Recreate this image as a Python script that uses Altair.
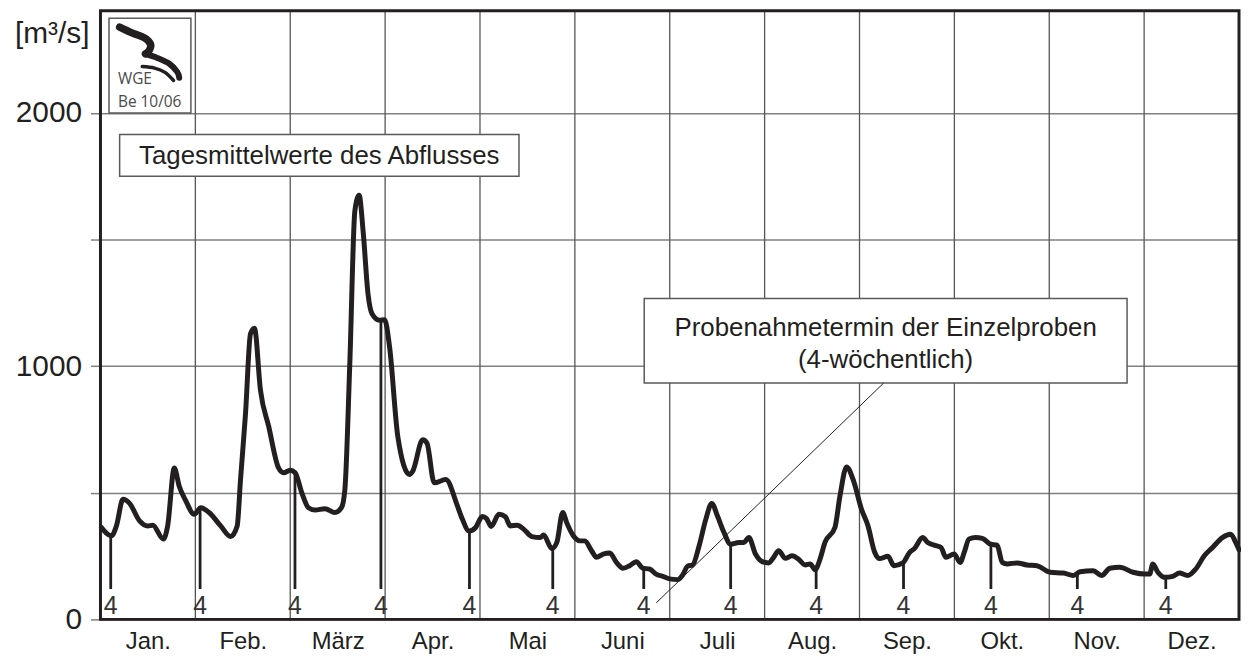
import altair as alt
import pandas as pd

# ---------------- data ----------------
month_names = ["Jan.", "Feb.", "März", "Apr.", "Mai", "Juni",
               "Juli", "Aug.", "Sep.", "Okt.", "Nov.", "Dez."]
month_bounds = [1, 2, 3, 4, 5, 6, 7, 8, 9, 10, 11]
month_centers = [0.5, 1.5, 2.5, 3.5, 4.5, 5.5, 6.5, 7.5, 8.5, 9.5, 10.5, 11.5]
y_ticks = [0, 500, 1000, 1500, 2000]

# time in months (0 = 1 Jan, 12 = 31 Dec), daily mean discharge [m3/s]
flow_t = [0.010, 0.115, 0.168, 0.237, 0.307, 0.412, 0.498, 0.551, 0.663, 0.708,
          0.778, 0.830, 0.901, 0.987, 1.058, 1.145, 1.267, 1.372, 1.441, 1.476,
          1.529, 1.581, 1.623, 1.686, 1.773, 1.877, 1.930, 2.000, 2.052, 2.122,
          2.192, 2.262, 2.366, 2.471, 2.540, 2.576, 2.628, 2.681, 2.726, 2.768,
          2.820, 2.862, 2.942, 2.995, 3.047, 3.134, 3.257, 3.291, 3.396, 3.441,
          3.518, 3.640, 3.762, 3.815, 3.885, 3.954, 4.024, 4.069, 4.118, 4.199,
          4.268, 4.320, 4.391, 4.461, 4.548, 4.635, 4.670, 4.757, 4.810, 4.872,
          4.914, 4.984, 5.053, 5.106, 5.176, 5.228, 5.298, 5.368, 5.438, 5.508,
          5.577, 5.647, 5.717, 5.786, 5.856, 5.927, 5.996, 6.084, 6.136, 6.188,
          6.241, 6.310, 6.380, 6.443, 6.503, 6.572, 6.642, 6.729, 6.781, 6.834,
          6.904, 6.974, 7.043, 7.095, 7.148, 7.218, 7.288, 7.357, 7.427, 7.480,
          7.532, 7.584, 7.636, 7.741, 7.794, 7.864, 7.933, 8.021, 8.090, 8.160,
          8.212, 8.300, 8.363, 8.457, 8.527, 8.580, 8.666, 8.719, 8.806, 8.859,
          8.911, 8.998, 9.061, 9.103, 9.155, 9.225, 9.294, 9.382, 9.451, 9.504,
          9.556, 9.661, 9.765, 9.870, 10.010, 10.149, 10.254, 10.325, 10.464, 10.551,
          10.639, 10.743, 10.883, 11.005, 11.058, 11.092, 11.145, 11.215, 11.302, 11.372,
          11.459, 11.545, 11.634, 11.721, 11.825, 11.912, 11.965, 12.000]
flow_q = [363, 330, 369, 474, 458, 389, 369, 372, 317, 369,
          598, 526, 467, 415, 441, 422, 369, 327, 369, 552,
          814, 1128, 1150, 906, 762, 598, 579, 589, 579, 500,
          441, 432, 437, 422, 441, 513, 1011, 1612, 1675, 1534,
          1285, 1207, 1181, 1183, 1076, 722, 572, 585, 709, 696,
          539, 552, 448, 395, 349, 363, 406, 398, 367, 415,
          405, 369, 372, 356, 327, 323, 333, 280, 304, 422,
          382, 330, 310, 310, 271, 245, 258, 262, 225, 202,
          212, 228, 202, 199, 179, 170, 160, 157, 175, 210,
          215, 291, 395, 458, 408, 343, 297, 304, 304, 323,
          258, 228, 223, 245, 271, 241, 251, 238, 215, 219,
          196, 238, 304, 363, 487, 602, 552, 435, 369, 265,
          240, 249, 212, 223, 264, 280, 323, 304, 291, 284,
          245, 258, 225, 264, 317, 323, 320, 297, 293, 225,
          219, 223, 215, 212, 186, 183, 173, 188, 192, 173,
          202, 206, 186, 179, 179, 219, 186, 166, 170, 183,
          173, 199, 251, 284, 323, 336, 304, 275]

# 4-weekly sampling dates (months) and discharge on those days
sample_t = [0.108, 1.050, 2.050, 2.956, 3.889, 4.767, 5.726,
            6.642, 7.543, 8.464, 9.385, 10.296, 11.228]
sample_q = [330, 441, 579, 1181, 349, 280, 202,
            297, 196, 223, 297, 180, 166]
sample_label = ["4"] * 13

# logo strokes (WGE swoosh), in the chart's own units
logo_a_t = [0.202, 0.338, 0.464, 0.527, 0.516, 0.474]
logo_a_q = [2339, 2315, 2296, 2272, 2248, 2233]
logo_b_t = [0.474, 0.600, 0.726, 0.809, 0.830]
logo_b_q = [2233, 2217, 2194, 2162, 2139]
logo_c_t = [0.440, 0.570, 0.680, 0.770]
logo_c_q = [2183, 2177, 2160, 2128]

# ---------------- helpers ----------------
INK = "#231f20"
FONT = "Liberation Sans"
XMAX, YMAX = 12, 2403

label_expr = "[" + ",".join("'%s'" % m for m in month_names) + "][floor(datum.value)]"

def X(field):
    return alt.X(field, type="quantitative",
                 scale=alt.Scale(domain=[0, XMAX], nice=False, zero=False),
                 axis=alt.Axis(values=month_centers, labelExpr=label_expr, ticks=False,
                               grid=False, domain=False, title=None,
                               labelFontSize=24, labelPadding=10, labelColor=INK,
                               labelFont=FONT))

def Y(field):
    return alt.Y(field, type="quantitative",
                 scale=alt.Scale(domain=[0, YMAX], nice=False, zero=True),
                 axis=alt.Axis(values=y_ticks, format="d",
                               labelExpr="datum.value % 1000 == 0 ? datum.label : ''",
                               grid=True, gridColor="#808080", gridWidth=1.5,
                               domain=False, tickSize=10, tickColor="#808080",
                               tickWidth=1.5, labelFontSize=30, labelPadding=9,
                               labelColor=INK, labelFont=FONT,
                               title="[m³/s]", titleAngle=0, titleX=-49, titleY=23,
                               titleAlign="center", titleBaseline="middle",
                               titleFontSize=30, titleFontWeight="normal",
                               titleColor=INK, titleFont=FONT))

flow = pd.DataFrame({"t": flow_t, "q": flow_q})
samples = pd.DataFrame({"t": sample_t, "q": sample_q, "lab": sample_label})
samples["q0"] = 120
samples["qt"] = 22
grid_df = pd.DataFrame({"t": month_bounds})

boxes = pd.DataFrame({
    "t1": [0.09, 0.202, 5.731],
    "t2": [0.953, 4.411, 10.82],
    "q1": [2000, 1750, 933],
    "q2": [2374, 1915, 1267],
})
texts = pd.DataFrame({
    "t": [2.306, 8.275, 8.275],
    "q": [1830, 1149, 1024],
    "txt": ["Tagesmittelwerte des Abflusses",
            "Probenahmetermin der Einzelproben",
            "(4-wöchentlich)"],
})
logo_txt = pd.DataFrame({"t": [0.184, 0.184], "q": [2135, 2044], "txt": ["WGE", "Be 10/06"]})
leader = pd.DataFrame({"t": [5.857, 8.254], "q": [65, 933]})

def stroke_df(ts, qs):
    return pd.DataFrame({"t": ts, "q": qs, "i": list(range(len(ts)))})

logo_a = stroke_df(logo_a_t, logo_a_q)
logo_b = stroke_df(logo_b_t, logo_b_q)
logo_c = stroke_df(logo_c_t, logo_c_q)
frame = pd.DataFrame({"t1": [0], "t2": [XMAX], "q1": [0], "q2": [YMAX]})

# ---------------- layers ----------------
vgrid = alt.Chart(grid_df).mark_rule(color="#555555", strokeWidth=1.3).encode(x=X("t"))

box_layer = alt.Chart(boxes).mark_rect(fill="white", stroke="#5a5a5a", strokeWidth=1.5).encode(
    x=X("t1"), x2="t2", y=Y("q1"), y2="q2")

text_layer = alt.Chart(texts).mark_text(font=FONT, fontSize=26, color=INK, align="center",
                                        baseline="middle").encode(
    x=X("t"), y=Y("q"), text="txt")

logo_text = alt.Chart(logo_txt).mark_text(font="Open Sans", fontSize=15.5, color="#4a4a4a",
                                          align="left", baseline="middle").encode(
    x=X("t"), y=Y("q"), text="txt")

def logo_stroke(df, w):
    return alt.Chart(df).mark_line(color=INK, strokeWidth=w, strokeCap="round",
                                   strokeJoin="round", interpolate="cardinal").encode(
        x=X("t"), y=Y("q"), order="i")

logo_layers = [logo_stroke(logo_a, 7.5), logo_stroke(logo_b, 6), logo_stroke(logo_c, 3.5)]

sample_rules = alt.Chart(samples).mark_rule(color=INK, strokeWidth=2.8).encode(
    x=X("t"), y=Y("q0"), y2="q")

sample_text = alt.Chart(samples).mark_text(font=FONT, fontSize=25, color="#333333", align="center",
                                           baseline="alphabetic").encode(
    x=X("t"), y=Y("qt"), text="lab")

curve = alt.Chart(flow).mark_line(color=INK, strokeWidth=5, strokeJoin="round",
                                  strokeCap="round", interpolate="monotone").encode(
    x=X("t"), y=Y("q"), order="t")

leader_line = alt.Chart(leader).mark_line(color=INK, strokeWidth=1).encode(x=X("t"), y=Y("q"))

frame_layer = alt.Chart(frame).mark_rect(fill=None, fillOpacity=0, stroke=INK, strokeWidth=3).encode(
    x=X("t1"), x2="t2", y=Y("q1"), y2="q2")

chart = alt.layer(
    vgrid, box_layer, text_layer, logo_text, *logo_layers,
    sample_rules, sample_text, curve, leader_line, frame_layer
).properties(
    width=1145, height=612,
    autosize=alt.AutoSizeParams(type="none"),
    padding={"left": 93, "top": 1, "right": 2, "bottom": 40},
).configure_view(
    stroke=None
).configure(font=FONT, background="white")

chart.save("out.html", embed_options={"renderer": "svg", "actions": False})
